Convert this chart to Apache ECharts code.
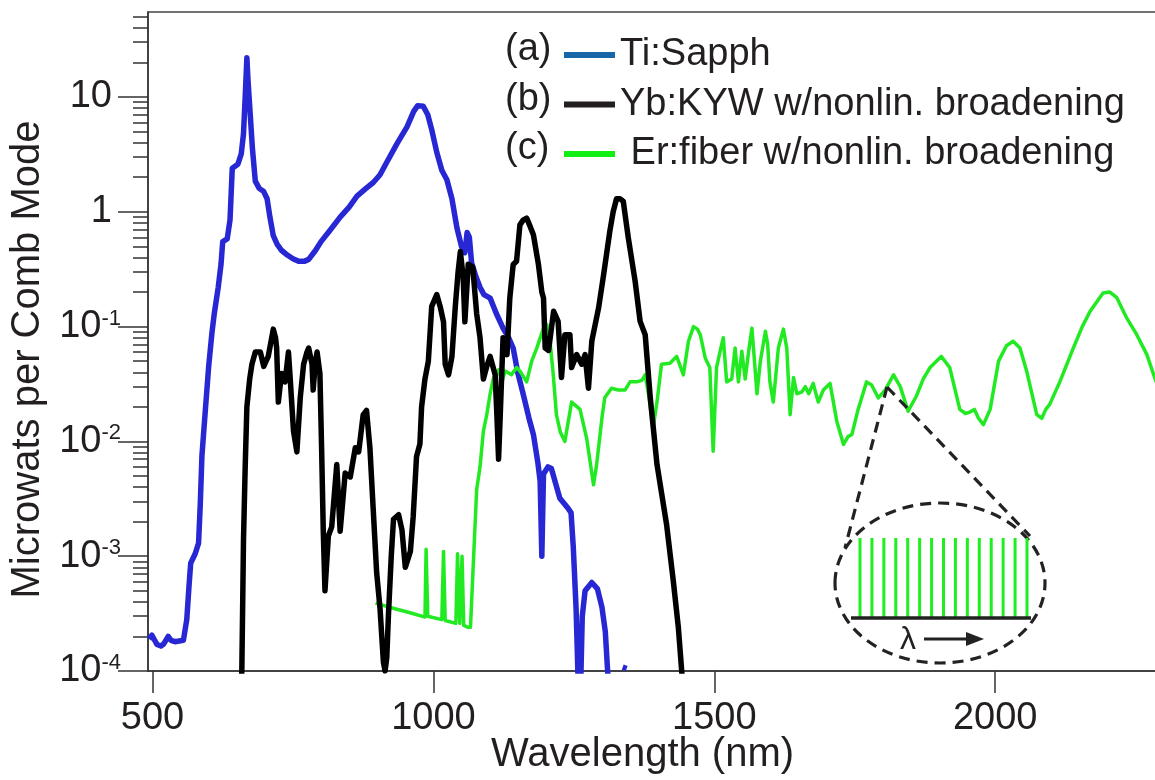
<!DOCTYPE html>
<html><head><meta charset="utf-8">
<script src="https://cdn.jsdelivr.net/npm/echarts@6/dist/echarts.min.js"></script>
<style>html,body{margin:0;padding:0;background:#fff}#c{width:1155px;height:780px}</style>
</head><body><div id="c"></div>
<script>
// ---------- data ----------
const xTickValues = [500, 1000, 1500, 2000];
const yMajorValues = [1e-4, 1e-3, 1e-2, 1e-1, 1, 10];
const yMinorValues = [2e-4,3e-4,4e-4,5e-4,6e-4,7e-4,8e-4,9e-4,
  2e-3,3e-3,4e-3,5e-3,6e-3,7e-3,8e-3,9e-3,
  0.02,0.03,0.04,0.05,0.06,0.07,0.08,0.09,
  0.2,0.3,0.4,0.5,0.6,0.7,0.8,0.9,
  2,3,4,5,6,7,8,9, 20,30,40,50];
const legendTags = ['(a)', '(b)', '(c)'];
const seriesNames = ['Ti:Sapph', 'Yb:KYW w/nonlin. broadening', ' Er:fiber w/nonlin. broadening'];
const xTitle = 'Wavelength (nm)';
const yTitle = 'Microwats per Comb Mode';

// (a) Ti:Sapph  [wavelength nm, microwatts per comb mode]
const tiSapph = [[494,1.9e-4],[499,2.05e-4],[508,1.7e-4],[515,1.65e-4],[520,1.72e-4],[528,2.0e-4],[533,1.85e-4],[540,1.8e-4],[555,1.85e-4],[561,2.8e-4],[565,5.5e-4],[568,8.7e-4],[576,1.05e-3],[582,1.3e-3],[585,2.8e-3],[588,7.5e-3],[594,0.0185],[600,0.045],[606,0.09],[610,0.13],[617,0.22],[622,0.35],[625,0.55],[633,0.58],[638,0.85],[642,2.4],[652,2.6],[658,3.2],[662,4.8],[665,10],[668,22],[670,14],[674,7.0],[678,3.5],[683,1.85],[690,1.6],[698,1.5],[704,1.3],[709,0.9],[715,0.62],[722,0.52],[730,0.46],[740,0.42],[750,0.39],[760,0.37],[770,0.37],[778,0.385],[790,0.46],[800,0.55],[815,0.68],[834,0.9],[850,1.1],[864,1.37],[880,1.6],[893,1.8],[905,2.1],[917,2.7],[935,3.9],[953,5.5],[965,7.5],[972,8.4],[982,8.3],[990,7.0],[997,5.2],[1006,3.3],[1015,2.3],[1024,1.9],[1033,1.3],[1042,0.72],[1050,0.5],[1056,0.44],[1060,0.66],[1064,0.6],[1068,0.36],[1076,0.27],[1083,0.22],[1090,0.19],[1101,0.177],[1112,0.13],[1124,0.097],[1134,0.08],[1142,0.065],[1150,0.04],[1160,0.0256],[1170,0.016],[1178,0.0115],[1186,0.0065],[1190,0.0045],[1193,0.001],[1196,0.0052],[1204,0.006],[1210,0.0058],[1225,0.0032],[1240,0.0026],[1245,0.0024],[1249,0.0012],[1254,3.5e-4],[1258,7e-5],[1262,7e-5],[1265,3e-4],[1270,5.0e-4],[1282,5.9e-4],[1292,5.2e-4],[1300,3.6e-4],[1306,2.2e-4],[1312,7e-5],[1325,'-'],[1337,1.08e-4],[1344,1.05e-4]];

// (b) Yb:KYW w/nonlin. broadening
const ybKyw = [[656,5e-5],[659,1e-4],[662,1.4e-3],[665,6e-3],[668,0.02],[673,0.035],[677,0.047],[683,0.06],[692,0.06],[698,0.045],[706,0.055],[715,0.095],[719,0.08],[721,0.065],[724,0.022],[727,0.03],[730,0.039],[736,0.033],[742,0.06],[745,0.036],[751,0.0123],[757,0.0081],[763,0.024],[769,0.047],[775,0.06],[778,0.065],[784,0.047],[786,0.028],[790,0.05],[793,0.06],[798,0.039],[801,0.0088],[804,0.00165],[807,5e-4],[813,1.5e-3],[819,1.8e-3],[828,6.3e-3],[834,1.65e-3],[843,5.3e-3],[852,4.9e-3],[861,8.8e-3],[867,8.1e-3],[875,0.017],[881,0.0186],[887,8.8e-3],[893,2.5e-3],[899,7.2e-4],[905,3.5e-4],[911,1.2e-4],[914,1e-4],[917,1.3e-4],[920,3.1e-4],[925,1.0e-3],[929,2.1e-3],[938,2.3e-3],[944,1.7e-3],[950,8e-4],[953,7.8e-4],[959,1.1e-3],[964,2.2e-3],[970,7.4e-3],[976,0.0095],[979,0.02],[985,0.035],[991,0.05],[997,0.15],[1006,0.19],[1012,0.15],[1018,0.11],[1021,0.047],[1027,0.038],[1033,0.055],[1039,0.15],[1044,0.3],[1048,0.45],[1053,0.27],[1056,0.11],[1062,0.35],[1070,0.33],[1077,0.13],[1083,0.08],[1089,0.035],[1095,0.045],[1101,0.055],[1110,0.038],[1113,0.017],[1116,0.007],[1119,0.017],[1124,0.08],[1131,0.057],[1136,0.177],[1142,0.347],[1148,0.37],[1154,0.77],[1160,0.85],[1166,0.88],[1172,0.75],[1178,0.63],[1187,0.347],[1193,0.2],[1196,0.177],[1199,0.065],[1205,0.062],[1214,0.136],[1222,0.111],[1228,0.036],[1234,0.085],[1243,0.085],[1246,0.044],[1255,0.057],[1264,0.047],[1270,0.057],[1276,0.029],[1282,0.075],[1294,0.145],[1303,0.284],[1314,0.675],[1320,1.0],[1326,1.3],[1332,1.3],[1338,1.23],[1347,0.59],[1359,0.25],[1368,0.111],[1377,0.085],[1386,0.024],[1398,6.3e-3],[1415,1.9e-3],[1427,6.1e-4],[1436,2.4e-4],[1442,1e-4],[1446,5e-5]];

// (c) Er:fiber w/nonlin. broadening
const erFiber = [[897,3.9e-4],[930,3.5e-4],[960,3.2e-4],[985,2.95e-4],[987,1.15e-3],[990,3.0e-4],[1015,2.8e-4],[1018,1.1e-3],[1021,2.75e-4],[1040,2.6e-4],[1043,1.05e-3],[1047,2.6e-4],[1051,1.0e-3],[1054,2.5e-4],[1058,2.45e-4],[1062,2.4e-4],[1066,2.4e-4],[1071,8.5e-4],[1077,3.8e-3],[1083,6e-3],[1089,0.0123],[1095,0.0171],[1101,0.026],[1107,0.0357],[1116,0.042],[1122,0.033],[1128,0.041],[1139,0.038],[1148,0.044],[1154,0.041],[1166,0.033],[1175,0.05],[1184,0.065],[1196,0.097],[1202,0.104],[1207,0.08],[1213,0.04],[1219,0.0171],[1226,0.012],[1234,0.01],[1246,0.022],[1261,0.019],[1273,0.0105],[1285,0.0042],[1290,0.006],[1294,0.0088],[1300,0.016],[1305,0.024],[1317,0.029],[1329,0.028],[1341,0.028],[1350,0.033],[1362,0.033],[1371,0.034],[1377,0.038],[1384,0.024],[1391,0.0131],[1398,0.022],[1406,0.047],[1421,0.048],[1433,0.055],[1445,0.038],[1454,0.0745],[1463,0.1],[1470,0.095],[1475,0.085],[1484,0.053],[1492,0.044],[1498,0.0082],[1504,0.044],[1510,0.06],[1516,0.08],[1522,0.033],[1531,0.035],[1537,0.065],[1543,0.033],[1549,0.061],[1555,0.035],[1561,0.06],[1567,0.097],[1576,0.026],[1582,0.05],[1591,0.091],[1595,0.07],[1599,0.033],[1605,0.022],[1614,0.065],[1623,0.095],[1629,0.065],[1635,0.0171],[1641,0.036],[1647,0.026],[1656,0.027],[1662,0.03],[1668,0.026],[1676,0.032],[1685,0.022],[1694,0.028],[1706,0.032],[1718,0.015],[1730,0.0094],[1738,0.011],[1745,0.0115],[1756,0.019],[1771,0.033],[1780,0.031],[1792,0.0239],[1804,0.028],[1819,0.038],[1831,0.03],[1845,0.0183],[1860,0.025],[1872,0.035],[1884,0.044],[1904,0.055],[1919,0.044],[1937,0.019],[1947,0.0175],[1955,0.018],[1963,0.019],[1970,0.016],[1979,0.014],[1991,0.019],[2006,0.05],[2020,0.068],[2032,0.0745],[2044,0.065],[2056,0.041],[2074,0.0171],[2083,0.0159],[2090,0.019],[2097,0.021],[2115,0.033],[2139,0.065],[2155,0.1],[2169,0.136],[2192,0.196],[2204,0.2],[2216,0.18],[2234,0.119],[2252,0.085],[2270,0.057],[2284,0.0357],[2290,0.03]];

// ---------- style ----------
const FONT = 'Liberation Sans, Arial, sans-serif';
const TXT = '#231f20';
const AX = '#333';
const curveColors = ['#2727d4', '#000000', '#22ea22'];
const legendColors = ['#1767a8', '#231f20', '#11ee11'];

const chart = echarts.init(document.getElementById('c'), null, {renderer: 'canvas'});

function yLabel(v) {
  const e = Math.round(Math.log10(v));
  if (e === 1) return '{p|10}';
  if (e === 0) return '{p|1}';
  return '{b|10}{s|' + e + '}';
}

// inset graphics (schematic annotation)
const inset = [];
inset.push({type:'line', shape:{x1:887, y1:387, x2:845, y2:548}, style:{stroke:'#222', lineWidth:3.2, lineDash:[11,7]}, z:10});
inset.push({type:'line', shape:{x1:887, y1:387, x2:1030, y2:536}, style:{stroke:'#222', lineWidth:3.2, lineDash:[11,7]}, z:10});
inset.push({type:'ellipse', shape:{cx:940, cy:583, rx:105, ry:80}, style:{fill:'#fff', stroke:'#222', lineWidth:3.2, lineDash:[11,7]}, z:11});
for (let i = 0; i < 15; i++) {
  const x = 860 + i * (167 / 14);
  inset.push({type:'line', shape:{x1:x, y1:538, x2:x, y2:618}, style:{stroke:'#1fee1f', lineWidth:3}, z:12});
}
inset.push({type:'line', shape:{x1:851, y1:618, x2:1031, y2:618}, style:{stroke:'#222', lineWidth:3.5}, z:13});
inset.push({type:'text', x:908, y:640, style:{text:'λ', font:'32px ' + FONT, fill:'#222', align:'center', verticalAlign:'middle'}, z:13});
inset.push({type:'line', shape:{x1:924, y1:639, x2:972, y2:639}, style:{stroke:'#222', lineWidth:3}, z:13});
inset.push({type:'polygon', shape:{points:[[984,639],[966,632],[966,646]]}, style:{fill:'#222'}, z:13});

// legend tags
const tags = legendTags.map((t, i) => ({
  type:'text', x:505, y:50 + i * 49.5,
  style:{text:t, font:'38px ' + FONT, fill:TXT, align:'left', verticalAlign:'middle'}, z:20
}));

const option = {
  backgroundColor:'#fff',
  animation:false,
  grid:{left:148, right:-2, top:12, bottom:109, show:true, borderColor:'#444', borderWidth:1.5, backgroundColor:'transparent', containLabel:false, outerBoundsMode:'none'},
  legend:{
    orient:'vertical', left:559, top:31, itemWidth:51, itemHeight:6, itemGap:11.5, icon:'rect',
    selectedMode:false,
    textStyle:{fontSize:38, fontFamily:FONT, color:TXT, lineHeight:38},
    data: seriesNames.map((n, i) => ({name:n, itemStyle:{color:legendColors[i]}}))
  },
  xAxis:{
    type:'value', min:492, max:2288,
    axisLine:{show:true, onZero:false, lineStyle:{color:AX, width:1.5}},
    axisTick:{show:true, customValues:xTickValues, length:22, lineStyle:{color:AX, width:1.5}},
    axisLabel:{customValues:xTickValues, formatter:v => String(Math.round(v)), fontSize:38, fontFamily:FONT, color:TXT, margin:29},
    splitLine:{show:false}
  },
  yAxis:[{
    type:'log', logBase:10, min:1e-4, max:55, position:'left', offset:0,
    axisLine:{show:true, lineStyle:{color:AX, width:1.5}},
    axisTick:{show:true, customValues:yMajorValues, length:30, lineStyle:{color:AX, width:1.5}},
    axisLabel:{customValues:yMajorValues, formatter:yLabel, margin:27, color:TXT,
      rich:{
        p:{fontSize:38, fontFamily:FONT, color:TXT, padding:[0,9,0,0]},
        b:{fontSize:38, fontFamily:FONT, color:TXT},
        s:{fontSize:22, fontFamily:FONT, color:TXT, verticalAlign:'top'}
      }},
    splitLine:{show:false},
    name:yTitle, nameLocation:'middle', nameGap:97,
    nameTextStyle:{fontSize:40, fontFamily:FONT, color:TXT, padding:[0,36,0,0]}
  },{
    type:'log', logBase:10, min:1e-4, max:55, position:'left', offset:0,
    axisLine:{show:true, lineStyle:{color:AX, width:1.5, opacity:0}},
    axisTick:{show:true, customValues:yMinorValues, length:15, lineStyle:{color:AX, width:1.5}},
    axisLabel:{show:false},
    splitLine:{show:false}
  }],
  graphic:[
    {type:'text', x:491, y:755, style:{text:xTitle, font:'40px ' + FONT, fill:TXT, align:'left', verticalAlign:'middle'}, z:20},
    ...tags,
    ...inset
  ],
  series:[
    {name:seriesNames[0], type:'line', data:tiSapph, showSymbol:false, symbol:'none', clip:true, yAxisIndex:0, z:2,
      lineStyle:{color:curveColors[0], width:5.5, join:'round'}, itemStyle:{color:curveColors[0]}},
    {name:seriesNames[2], type:'line', data:erFiber, showSymbol:false, symbol:'none', clip:true, yAxisIndex:0, z:3,
      lineStyle:{color:curveColors[2], width:3.5, join:'round'}, itemStyle:{color:curveColors[2]}},
    {name:seriesNames[1], type:'line', data:ybKyw, showSymbol:false, symbol:'none', clip:true, yAxisIndex:0, z:4,
      lineStyle:{color:curveColors[1], width:5.5, join:'round'}, itemStyle:{color:curveColors[1]}}
  ]
};
chart.setOption(option);
</script></body></html>
